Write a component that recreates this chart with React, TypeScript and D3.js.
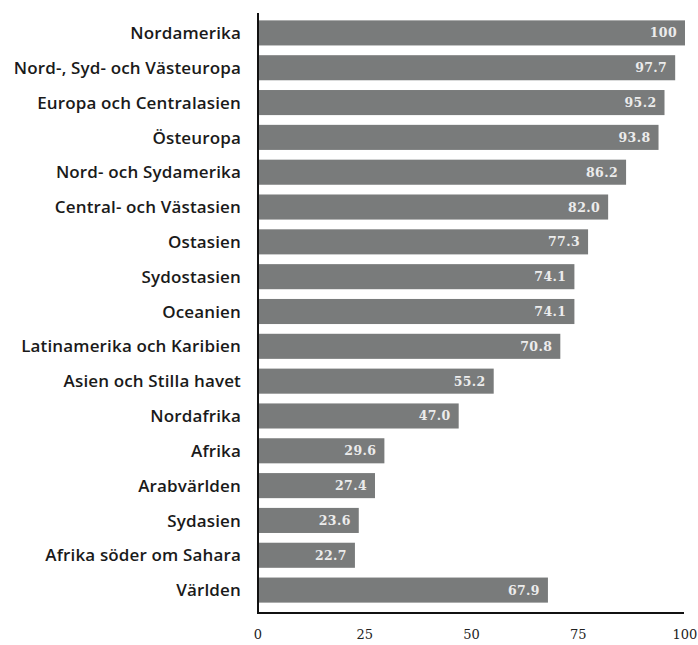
import React from "react";
import * as d3 from "d3";

const categories = [
  "Nordamerika",
  "Nord-, Syd- och Västeuropa",
  "Europa och Centralasien",
  "Östeuropa",
  "Nord- och Sydamerika",
  "Central- och Västasien",
  "Ostasien",
  "Sydostasien",
  "Oceanien",
  "Latinamerika och Karibien",
  "Asien och Stilla havet",
  "Nordafrika",
  "Afrika",
  "Arabvärlden",
  "Sydasien",
  "Afrika söder om Sahara",
  "Världen",
];
const values = [100, 97.7, 95.2, 93.8, 86.2, 82.0, 77.3, 74.1, 74.1, 70.8, 55.2, 47.0, 29.6, 27.4, 23.6, 22.7, 67.9];
const valueLabels = ["100", "97.7", "95.2", "93.8", "86.2", "82.0", "77.3", "74.1", "74.1", "70.8", "55.2", "47.0", "29.6", "27.4", "23.6", "22.7", "67.9"];
const ticks = [0, 25, 50, 75, 100];

export default function App() {
  const W = 698, H = 645;
  const x = d3.scaleLinear().domain([0, 100]).range([258, 685]);
  const y = d3.scaleBand<string>().domain(categories).range([15.5, 607.5]).paddingInner(0.28).paddingOuter(0.14);
  return (
    <svg width={W} height={H} style={{ position: "absolute", left: 0, top: 0, background: "#fff" }}>
      {categories.map((c, i) => {
        const yy = y(c)!;
        const bw = y.bandwidth();
        return (
          <g key={c}>
            <rect x={x(0)} y={yy} width={x(values[i]) - x(0)} height={bw} fill="#797b7b" />
            <text x={241} y={yy + bw / 2} dy="0.36em" textAnchor="end" fontFamily="'Open Sans', sans-serif" fontSize={17} fontWeight={600} fill="#1a1a1a" letterSpacing={0.15}>{c}</text>
            <text x={x(values[i]) - 8} y={yy + bw / 2} dy="0.36em" textAnchor="end" fontFamily="'DejaVu Serif', serif" fontSize={12.5} fontWeight="bold" fill="#ececec" letterSpacing={0.4}>{valueLabels[i]}</text>
          </g>
        );
      })}
      <line x1={258} x2={258} y1={13} y2={614} stroke="#111" strokeWidth={2} />
      <line x1={257} x2={684} y1={613} y2={613} stroke="#111" strokeWidth={2} />
      {ticks.map((t) => (
        <text key={t} x={x(t)} y={639} textAnchor="middle" fontFamily="'DejaVu Serif', serif" fontSize={13} fill="#222">{t}</text>
      ))}
    </svg>
  );
}
